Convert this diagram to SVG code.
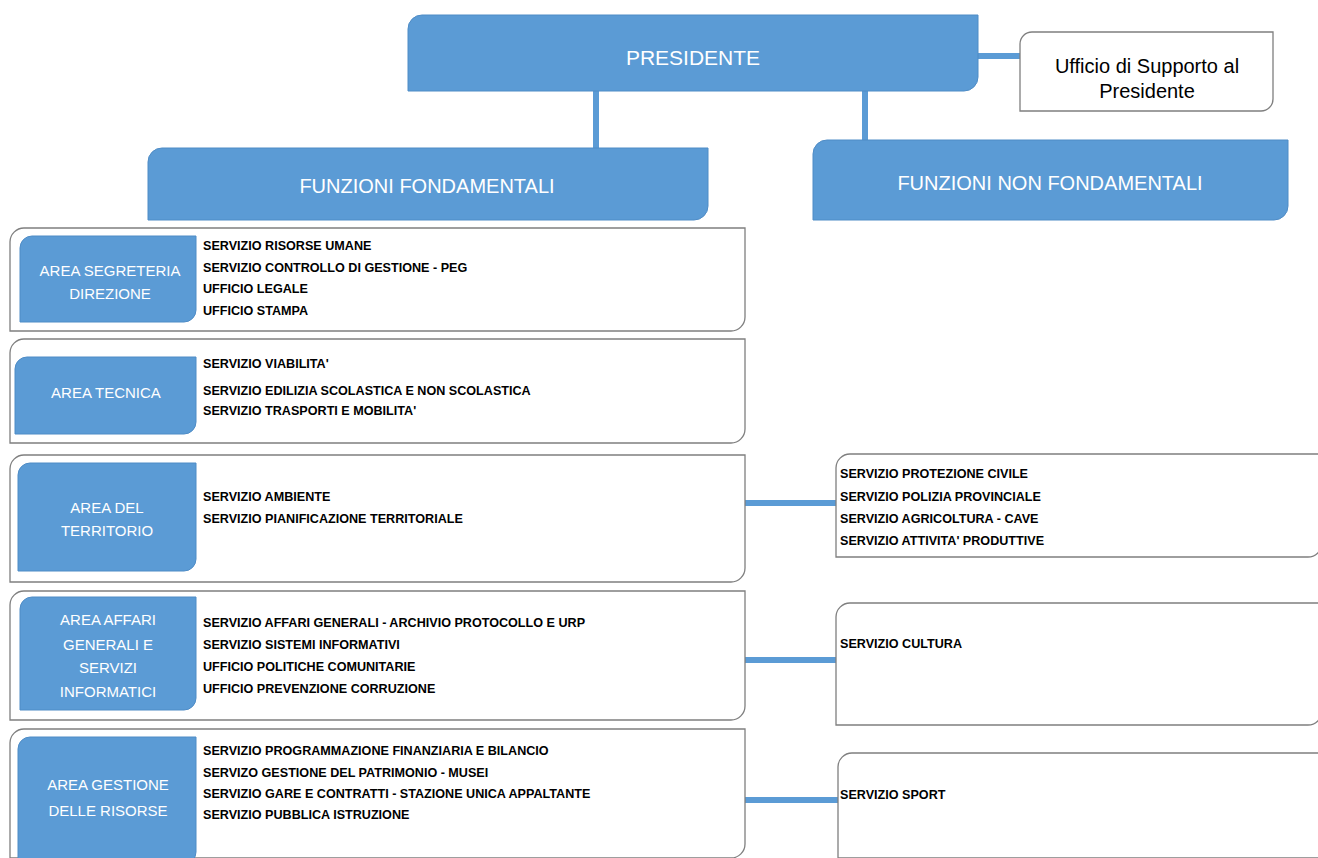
<svg xmlns="http://www.w3.org/2000/svg" width="1318" height="858" viewBox="0 0 1318 858">
<style>
.blue{fill:#5B9BD5;stroke:#4F8CC6;stroke-width:1}
.box{fill:#FFFFFF;stroke:#7F7F7F;stroke-width:1.3}
.conn{stroke:#5B9BD5;stroke-width:6;fill:none}
.hd{font-family:"Liberation Sans",Arial,sans-serif;fill:#FFFFFF;text-anchor:middle}
.ar{font-family:"Liberation Sans",Arial,sans-serif;font-size:15px;fill:#FFFFFF;text-anchor:middle}
.sv{font-family:"Liberation Sans",Arial,sans-serif;font-size:12.6px;font-weight:bold;fill:#000000}
.uf{font-family:"Liberation Sans",Arial,sans-serif;font-size:20px;fill:#000000;text-anchor:middle}
</style>
<rect width="1318" height="858" fill="#FFFFFF"/>
<g id="connectors">
<line class="conn" x1="596" y1="88" x2="596" y2="150"/>
<line class="conn" x1="865" y1="88" x2="865" y2="142"/>
<line class="conn" x1="976" y1="56" x2="1021" y2="56"/>
<line class="conn" x1="745" y1="503" x2="836" y2="503"/>
<line class="conn" x1="745" y1="660" x2="836" y2="660"/>
<line class="conn" x1="745" y1="800" x2="838" y2="800"/>
</g>
<g id="presidente">
<path class="blue" d="M422,15 H978 V77 A14,14 0 0 1 964,91 H408 V29 A14,14 0 0 1 422,15 Z"/>
<text class="hd" x="693" y="65" font-size="21">PRESIDENTE</text>
</g>
<g id="ufficio-supporto">
<path class="box" d="M1032,32 H1273 V99 A12,12 0 0 1 1261,111 H1020 V44 A12,12 0 0 1 1032,32 Z"/>
<text class="uf" x="1147" y="73">Ufficio di Supporto al</text>
<text class="uf" x="1147" y="98">Presidente</text>
</g>
<g id="funzioni-fondamentali">
<path class="blue" d="M162,148 H708 V206 A14,14 0 0 1 694,220 H148 V162 A14,14 0 0 1 162,148 Z"/>
<text class="hd" x="427" y="193" font-size="20">FUNZIONI FONDAMENTALI</text>
</g>
<g id="funzioni-non-fondamentali">
<path class="blue" d="M827,140 H1288 V206 A14,14 0 0 1 1274,220 H813 V154 A14,14 0 0 1 827,140 Z"/>
<text class="hd" x="1050" y="190" font-size="20">FUNZIONI NON FONDAMENTALI</text>
</g>
<g id="area-segreteria">
<path class="box" d="M24,228 H745 V317 A14,14 0 0 1 731,331 H10 V242 A14,14 0 0 1 24,228 Z"/>
<path class="blue" d="M32,236 H196 V310 A12,12 0 0 1 184,322 H20 V248 A12,12 0 0 1 32,236 Z"/>
<text class="ar" x="110" y="276">AREA SEGRETERIA</text>
<text class="ar" x="110" y="299">DIREZIONE</text>
<text class="sv" x="203" y="250">SERVIZIO RISORSE UMANE</text>
<text class="sv" x="203" y="272">SERVIZIO CONTROLLO DI GESTIONE - PEG</text>
<text class="sv" x="203" y="293">UFFICIO LEGALE</text>
<text class="sv" x="203" y="315">UFFICIO STAMPA</text>
</g>
<g id="area-tecnica">
<path class="box" d="M24,339 H745 V429 A14,14 0 0 1 731,443 H10 V353 A14,14 0 0 1 24,339 Z"/>
<path class="blue" d="M27,357 H196 V422 A12,12 0 0 1 184,434 H15 V369 A12,12 0 0 1 27,357 Z"/>
<text class="ar" x="106" y="398">AREA TECNICA</text>
<text class="sv" x="203" y="368">SERVIZIO VIABILITA'</text>
<text class="sv" x="203" y="395">SERVIZIO EDILIZIA SCOLASTICA E NON SCOLASTICA</text>
<text class="sv" x="203" y="415">SERVIZIO TRASPORTI E MOBILITA'</text>
</g>
<g id="area-territorio">
<path class="box" d="M24,455 H745 V568 A14,14 0 0 1 731,582 H10 V469 A14,14 0 0 1 24,455 Z"/>
<path class="blue" d="M30,463 H196 V559 A12,12 0 0 1 184,571 H18 V475 A12,12 0 0 1 30,463 Z"/>
<text class="ar" x="107" y="513">AREA DEL</text>
<text class="ar" x="107" y="536">TERRITORIO</text>
<text class="sv" x="203" y="501">SERVIZIO AMBIENTE</text>
<text class="sv" x="203" y="523">SERVIZIO PIANIFICAZIONE TERRITORIALE</text>
</g>
<g id="area-affari-generali">
<path class="box" d="M24,591 H745 V706 A14,14 0 0 1 731,720 H10 V605 A14,14 0 0 1 24,591 Z"/>
<path class="blue" d="M32,597 H196 V698 A12,12 0 0 1 184,710 H20 V609 A12,12 0 0 1 32,597 Z"/>
<text class="ar" x="108" y="625">AREA AFFARI</text>
<text class="ar" x="108" y="650">GENERALI E</text>
<text class="ar" x="108" y="673">SERVIZI</text>
<text class="ar" x="108" y="697">INFORMATICI</text>
<text class="sv" x="203" y="627">SERVIZIO AFFARI GENERALI - ARCHIVIO PROTOCOLLO E URP</text>
<text class="sv" x="203" y="649">SERVIZIO SISTEMI INFORMATIVI</text>
<text class="sv" x="203" y="671">UFFICIO POLITICHE COMUNITARIE</text>
<text class="sv" x="203" y="693">UFFICIO PREVENZIONE CORRUZIONE</text>
</g>
<g id="area-gestione-risorse">
<path class="box" d="M24,729 H745 V844 A14,14 0 0 1 731,858 H10 V743 A14,14 0 0 1 24,729 Z"/>
<path class="blue" d="M30,737 H196 V852 A12,12 0 0 1 184,864 H18 V749 A12,12 0 0 1 30,737 Z"/>
<text class="ar" x="108" y="790">AREA GESTIONE</text>
<text class="ar" x="108" y="816">DELLE RISORSE</text>
<text class="sv" x="203" y="755">SERVIZIO PROGRAMMAZIONE FINANZIARIA E BILANCIO</text>
<text class="sv" x="203" y="777">SERVIZO GESTIONE DEL PATRIMONIO - MUSEI</text>
<text class="sv" x="203" y="798">SERVIZIO GARE E CONTRATTI - STAZIONE UNICA APPALTANTE</text>
<text class="sv" x="203" y="819">SERVIZIO PUBBLICA ISTRUZIONE</text>
</g>
<g id="non-fond-1">
<path class="box" d="M850,454 H1322 V543 A14,14 0 0 1 1308,557 H836 V468 A14,14 0 0 1 850,454 Z"/>
<text class="sv" x="840" y="478">SERVIZIO PROTEZIONE CIVILE</text>
<text class="sv" x="840" y="501">SERVIZIO POLIZIA PROVINCIALE</text>
<text class="sv" x="840" y="523">SERVIZIO AGRICOLTURA - CAVE</text>
<text class="sv" x="840" y="545">SERVIZIO ATTIVITA' PRODUTTIVE</text>
</g>
<g id="non-fond-cultura">
<path class="box" d="M850,603 H1322 V711 A14,14 0 0 1 1308,725 H836 V617 A14,14 0 0 1 850,603 Z"/>
<text class="sv" x="840" y="648">SERVIZIO CULTURA</text>
</g>
<g id="non-fond-sport">
<path class="box" d="M852,753 H1322 V858 H838 V767 A14,14 0 0 1 852,753 Z"/>
<text class="sv" x="840" y="799">SERVIZIO SPORT</text>
</g>
</svg>
